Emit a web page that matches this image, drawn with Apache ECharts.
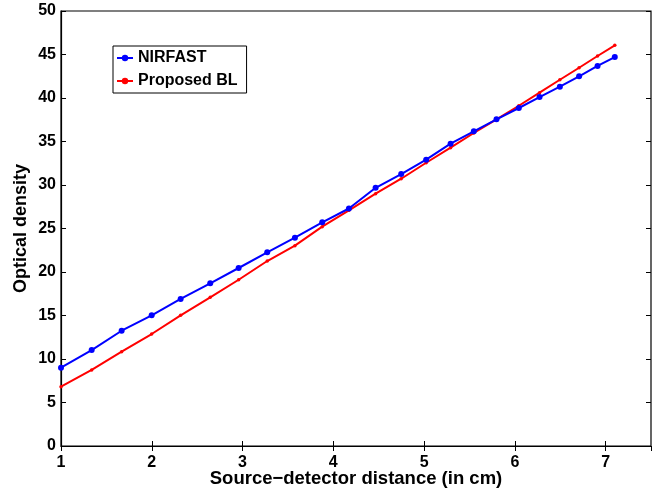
<!DOCTYPE html>
<html><head><meta charset="utf-8">
<script src="https://cdn.jsdelivr.net/npm/echarts@6/dist/echarts.min.js"></script>
<style>html,body{margin:0;padding:0;background:#fff}#c{width:660px;height:488px}</style>
</head><body><div id="c"></div>
<script>
const distances = [1.000,1.338,1.668,1.999,2.318,2.644,2.957,3.272,3.577,3.878,4.172,4.466,4.748,5.023,5.292,5.548,5.798,6.044,6.272,6.496,6.708,6.911,7.101];
const nirfast = [9.00,11.03,13.25,15.02,16.90,18.70,20.46,22.26,23.94,25.71,27.30,29.68,31.26,32.91,34.75,36.17,37.55,38.85,40.11,41.30,42.49,43.68,44.71];
const proposedBL = [6.82,8.74,10.84,12.87,15.02,17.09,19.11,21.26,23.03,25.21,27.09,29.00,30.72,32.56,34.29,35.98,37.55,39.11,40.61,42.10,43.48,44.83,46.06];
const seriesNames = ['NIRFAST','Proposed BL'];
const xTitle = 'Source\u2212detector distance (in cm)';
const yTitle = 'Optical density';

const font = 'Liberation Sans, Arial, Helvetica, sans-serif';
const chart = echarts.init(document.getElementById('c'), null, {renderer:'canvas'});
const pair = (xs, ys) => xs.map((x,i)=>[x, ys[i]]);
const tickStyle = {show:true, inside:true, length:5, lineStyle:{color:'#000', width:1}};
chart.setOption({
  animation:false,
  backgroundColor:'#fff',
  grid:{left:61, top:11, right:9, bottom:42, containLabel:false, outerBoundsMode:'none',
        show:true, borderColor:'#000', borderWidth:1.2},
  legend:{
    show:true, left:113, top:46, orient:'vertical',
    itemGap:7, itemWidth:16, itemHeight:8,
    borderColor:'#000', borderWidth:1, padding:[4,9,4,3],
    backgroundColor:'#fff',
    textStyle:{fontFamily:font, fontWeight:'bold', fontSize:16, lineHeight:16, color:'#000'},
    data:seriesNames
  },
  xAxis:[{
    type:'value', min:1, max:7.5, interval:1,
    name:xTitle, nameLocation:'middle', nameGap:23, nameMoveOverlap:false,
    nameTextStyle:{fontFamily:font, fontWeight:'bold', fontSize:18.5, color:'#000'},
    axisLine:{show:true, lineStyle:{color:'#000', width:1.2}},
    axisTick:tickStyle, splitLine:{show:false},
    axisLabel:{fontFamily:font, fontWeight:'bold', fontSize:16, color:'#000', margin:9, showMaxLabel:false}
  },{
    type:'value', position:'top', min:1, max:7.5, interval:1,
    axisLine:{show:false}, axisTick:tickStyle, axisLabel:{show:false}, splitLine:{show:false}
  }],
  yAxis:[{
    type:'value', min:0, max:50, interval:5,
    name:yTitle, nameLocation:'middle', nameGap:31, nameMoveOverlap:false,
    nameTextStyle:{fontFamily:font, fontWeight:'bold', fontSize:18, color:'#000'},
    axisLine:{show:true, lineStyle:{color:'#000', width:1.2}},
    axisTick:tickStyle, splitLine:{show:false},
    axisLabel:{fontFamily:font, fontWeight:'bold', fontSize:16, color:'#000', margin:5}
  },{
    type:'value', position:'right', min:0, max:50, interval:5,
    axisLine:{show:false}, axisTick:tickStyle, axisLabel:{show:false}, splitLine:{show:false}
  }],
  series:[{
    name:seriesNames[0], type:'line', data:pair(distances, nirfast),
    symbol:'circle', symbolSize:6, showSymbol:true,
    lineStyle:{color:'#0000ff', width:2}, itemStyle:{color:'#0000ff'}, z:3
  },{
    name:seriesNames[1], type:'line', data:pair(distances, proposedBL),
    symbol:'circle', symbolSize:3.5, showSymbol:true,
    lineStyle:{color:'#ff0000', width:2}, itemStyle:{color:'#ff0000'}, z:2
  }]
});
</script></body></html>
